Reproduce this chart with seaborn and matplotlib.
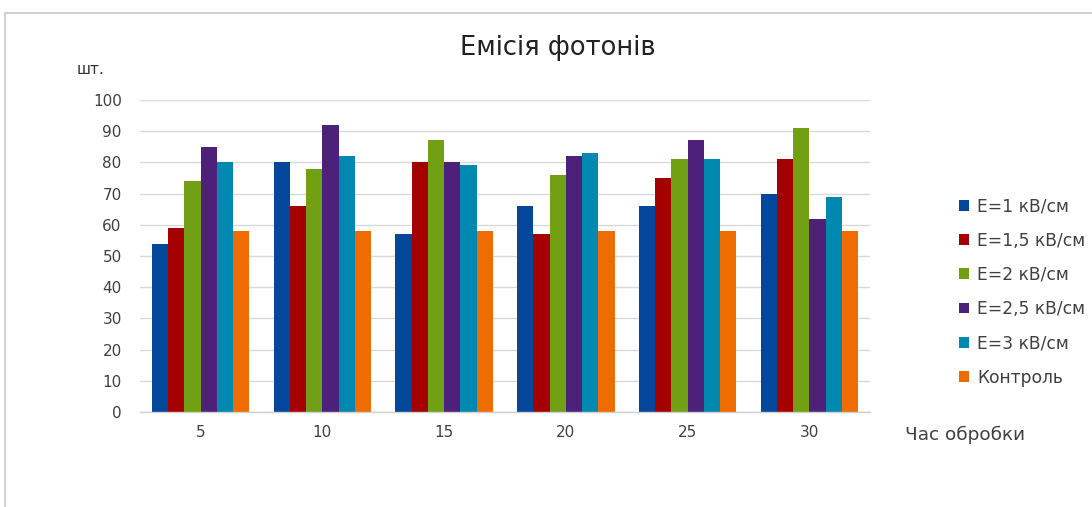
import matplotlib
matplotlib.use("Agg")
import matplotlib.pyplot as plt
from matplotlib.patches import Rectangle
import seaborn as sns
import pandas as pd

# Processing time (x categories)
hours = ["5", "10", "15", "20", "25", "30"]

# Photon counts per field strength
e_1 = [54, 80, 57, 66, 66, 70]
e_1_5 = [59, 66, 80, 57, 75, 81]
e_2 = [74, 78, 87, 76, 81, 91]
e_2_5 = [85, 92, 80, 82, 87, 62]
e_3 = [80, 82, 79, 83, 81, 69]
control = [58, 58, 58, 58, 58, 58]

series_names = ["E=1 кВ/см", "E=1,5 кВ/см", "E=2 кВ/см",
                "E=2,5 кВ/см", "E=3 кВ/см", "Контроль"]
series_values = [e_1, e_1_5, e_2, e_2_5, e_3, control]
colors = ["#03479b", "#a50000", "#72a014", "#4d2079", "#0089b0", "#ef6c00"]

rows = []
for name, vals in zip(series_names, series_values):
    for h, v in zip(hours, vals):
        rows.append({"hours": h, "series": name, "value": v})
df = pd.DataFrame(rows)

sns.set_theme(style="white")
plt.rcParams["font.family"] = ["DejaVu Sans"]

fig = plt.figure(figsize=(10.92, 5.07), dpi=100)
ax = fig.add_axes([0.128, 0.187, 0.669, 0.616])

sns.barplot(data=df, x="hours", y="value", hue="series", order=hours,
            hue_order=series_names, palette=colors, width=0.8,
            saturation=1, edgecolor="none", linewidth=0, ax=ax, errorbar=None)

ax.set_ylim(0, 100)
ax.set_yticks(range(0, 101, 10))
ax.yaxis.grid(True, color="#d9d9d9", linewidth=1)
ax.set_axisbelow(True)
for side in ("left", "right", "top"):
    ax.spines[side].set_visible(False)
ax.spines["bottom"].set_color("#d0d0d0")
ax.spines["bottom"].set_linewidth(1)
ax.tick_params(axis="y", length=0, pad=13, labelsize=11, labelcolor="#404040")
ax.tick_params(axis="x", length=0, pad=9, labelsize=11, labelcolor="#404040")
ax.set_xlabel("")
ax.set_ylabel("")

fig.text(0.511, 0.905, "Емісія фотонів", ha="center", va="center",
         fontsize=18.5, color="#222222")
fig.text(0.070, 0.862, "шт.", ha="left", va="center", fontsize=11, color="#333333")
fig.text(0.829, 0.142, "Час обробки", ha="left", va="center", fontsize=13.3,
         color="#404040")

leg = ax.legend(loc="center left", bbox_to_anchor=(1.112, 0.385), frameon=False,
                fontsize=12.3, handlelength=0.6, handleheight=0.6,
                handletextpad=0.45, labelspacing=0.95, borderaxespad=0)
for t in leg.get_texts():
    t.set_color("#404040")

# Outer chart frame
fig.patches.append(Rectangle((0.005, -0.02), 1.1, 0.995, transform=fig.transFigure,
                             fill=False, edgecolor="#c8c8c8", linewidth=1.2))

fig.savefig("out.png", dpi=100)
